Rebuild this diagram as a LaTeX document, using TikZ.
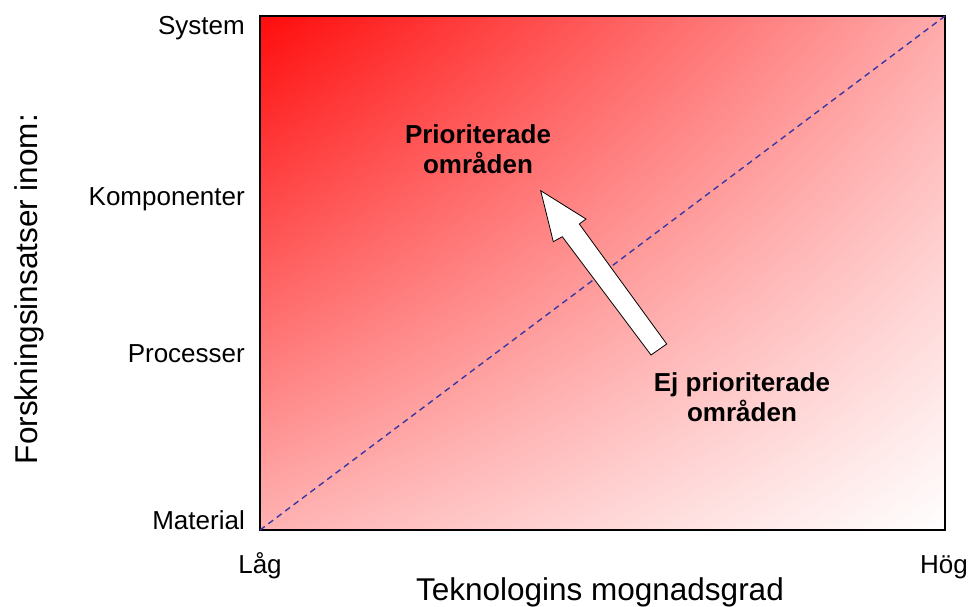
\documentclass[tikz,border=0pt]{standalone}
\usepackage{fontspec}
\setmainfont{Liberation Sans}
\usetikzlibrary{shadings}
\definecolor{hotred}{RGB}{255,12,12}
\definecolor{midA}{RGB}{255,170,170}
\definecolor{midB}{RGB}{255,178,178}
\definecolor{diagblue}{RGB}{55,55,165}
\begin{document}
\begin{tikzpicture}[x=1pt,y=-1pt,
  ticklbl/.style={font=\fontsize{26}{30}\selectfont, inner sep=0pt},
  axistitle/.style={font=\fontsize{31.5}{36}\selectfont, inner sep=0pt},
  arealbl/.style={font=\fontsize{26}{30}\selectfont\bfseries, align=center, inner sep=0pt},
  diag/.style={draw=diagblue, line width=1.4pt, dash pattern=on 6pt off 4.5pt},
  blockarrow/.style={fill=white, draw=black, line width=0.8pt, line join=miter}
]
\useasboundingbox (0,0) rectangle (971,607);
% field
\coordinate (bl) at (260,530);
\coordinate (tr) at (945,16);
\shade[upper left=hotred, upper right=midA, lower left=midB, lower right=white] (260,16) rectangle (945,530);
\draw[line width=2pt] (260,16) rectangle (945,530);
\draw[diag] (bl) -- (tr);
% block arrow
\draw[blockarrow] (540.7,190.7) -- (586,219) -- (579.3,224) -- (666.7,344) -- (651,355) -- (562.3,236.7) -- (553.3,241.7) -- cycle;
% labels
\node[ticklbl, anchor=base east] (sys) at (245,35) {System};
\node[ticklbl, anchor=base east] (komp) at (245,205) {Komponenter};
\node[ticklbl, anchor=base east] (proc) at (245,362) {Processer};
\node[ticklbl, anchor=base east] (mat) at (245,529) {Material};
\node[ticklbl, anchor=base] (lag) at (260,573) {Låg};
\node[ticklbl, anchor=base] (hog) at (944,573) {Hög};
\node[axistitle, anchor=base] (xt) at (600,600) {Teknologins mognadsgrad};
\node[axistitle, anchor=base, rotate=90] (yt) at (37,289) {Forskningsinsatser inom:};
\node[arealbl] (prio) at (478,149) {Prioriterade\\områden};
\node[arealbl] (ejprio) at (742,397.5) {Ej prioriterade\\områden};
\end{tikzpicture}
\end{document}
